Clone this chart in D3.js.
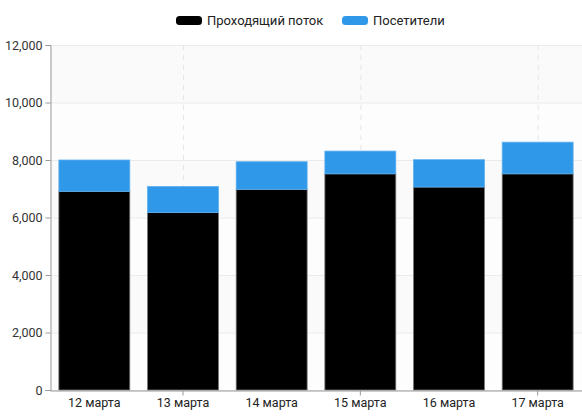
<!DOCTYPE html>
<html><head><meta charset="utf-8">
<script src="https://cdn.jsdelivr.net/npm/d3@7"></script>
<style>body{margin:0;background:#fff;font-family:Roboto,"Noto Sans",sans-serif;}</style>
</head><body>
<svg id="c" width="582" height="416"></svg>
<script>
const categories = ["12 марта","13 марта","14 марта","15 марта","16 марта","17 марта"];
const passing = [6910, 6170, 6980, 7520, 7060, 7520];
const visitors = [1090, 910, 960, 790, 950, 1100];
const seriesNames = ["Проходящий поток","Посетители"];
const seriesColors = ["#000000","#2f98e9"];
const yTicks = [0,2000,4000,6000,8000,10000,12000];

const W=582,H=416, m={l:50,r:0,t:45,b:26};
const svg=d3.select("#c");
const x=d3.scaleBand().domain(categories).range([m.l,W-m.r]).paddingInner(0.2).paddingOuter(0.1);
const xc=d3.scaleBand().domain(categories).range([m.l,W-m.r]);
const y=d3.scaleLinear().domain([0,12000]).range([H-m.b,m.t]);
const fmt=d3.format(",");

// background bands
for(let i=0;i<yTicks.length-1;i++){
  svg.append("rect").attr("x",m.l).attr("width",W-m.r-m.l)
    .attr("y",y(yTicks[i+1])).attr("height",y(yTicks[i])-y(yTicks[i+1]))
    .attr("fill",(yTicks.length-2-i)%2===0?"#fafafa":"#fdfdfd");
}
// horizontal grid
svg.append("g").selectAll("line").data(yTicks).join("line")
  .attr("x1",m.l).attr("x2",W-m.r).attr("y1",d=>y(d)+0.5).attr("y2",d=>y(d)+0.5)
  .attr("stroke","#ebebeb");
// vertical dashed grid
const vcats=categories.filter((d,i)=>i%2===1);
svg.append("g").selectAll("line").data(vcats).join("line")
  .attr("x1",d=>xc(d)+xc.bandwidth()/2+0.5).attr("x2",d=>xc(d)+xc.bandwidth()/2+0.5)
  .attr("y1",m.t).attr("y2",H-m.b).attr("stroke","#e6e6e6").attr("stroke-dasharray","5,5");

// bars
const stacked=categories.map((c,i)=>({c,p:passing[i],v:visitors[i]}));
const bx=d=>x(d.c)+(x.bandwidth()-71)/2;
svg.append("g").selectAll("rect").data(stacked).join("rect")
  .attr("x",d=>x(d.c)).attr("width",x.bandwidth())
  .attr("y",d=>y(d.p)).attr("height",d=>y(0)-y(d.p))
  .attr("fill",seriesColors[0]).attr("stroke","#777").attr("stroke-width",0.8);
svg.append("g").selectAll("rect").data(stacked).join("rect")
  .attr("x",d=>x(d.c)).attr("width",x.bandwidth())
  .attr("y",d=>y(d.p+d.v)).attr("height",d=>y(d.p)-y(d.p+d.v))
  .attr("fill",seriesColors[1]).attr("stroke","#5db0f0").attr("stroke-width",0.8);

// axes
const ya=d3.axisLeft(y).tickValues(yTicks).tickFormat(fmt).tickSize(5).tickPadding(3);
const gy=svg.append("g").attr("transform",`translate(${m.l+0.5},0)`).call(ya);
gy.select(".domain").attr("stroke","#999");
gy.selectAll(".tick line").attr("stroke","#999");
gy.selectAll("text").attr("fill","#333").style("font-size","12.5px").style("font-family","Roboto");

const xa=d3.axisBottom(xc).tickSize(0).tickPadding(8);
const gx=svg.append("g").attr("transform",`translate(0,${H-m.b+0.5})`).call(xa);
gx.select(".domain").attr("stroke","#999");
gx.selectAll("text").attr("fill","#222").style("font-size","12.5px").style("font-family","Roboto");
gx.selectAll(".tick").filter((d,i)=>i%2===1).append("line").attr("y2",5).attr("stroke","#999");

// legend
const lg=svg.append("g");
const lx=[176,342];
seriesNames.forEach((n,i)=>{
  lg.append("rect").attr("x",lx[i]).attr("y",16).attr("width",26).attr("height",9).attr("rx",3.5)
    .attr("fill",seriesColors[i]);
  lg.append("text").attr("x",lx[i]+31).attr("y",25).text(n)
    .attr("fill","#222").style("font-size","13px").style("font-family","Roboto");
});
</script>
</body></html>
